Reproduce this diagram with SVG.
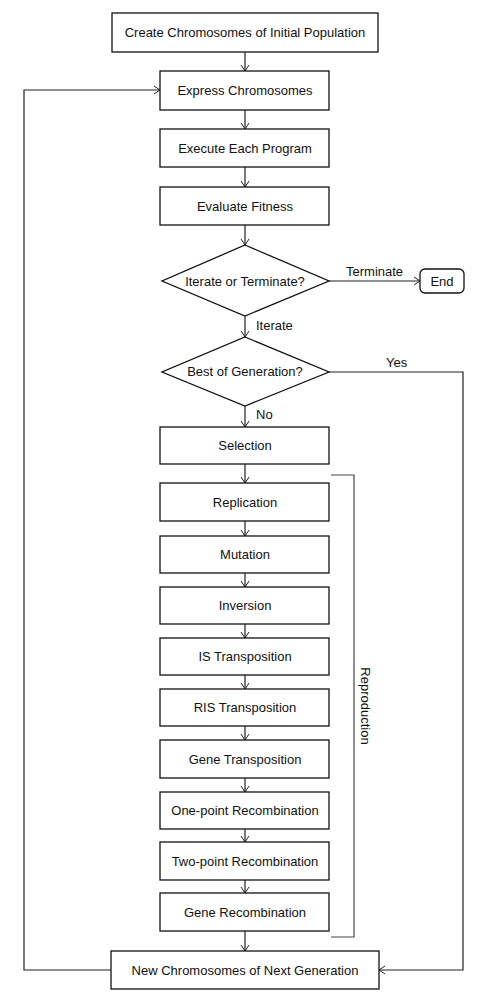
<svg xmlns="http://www.w3.org/2000/svg" width="491" height="998" viewBox="0 0 491 998">
<defs>
<marker id="arr" markerWidth="10" markerHeight="10" refX="8" refY="5" orient="auto" markerUnits="userSpaceOnUse">
<polyline points="2,1 8,5 2,9" fill="none" stroke="#222" stroke-width="1"/>
</marker>
<style>
.b{fill:#fff;stroke:#111;stroke-width:1.3}
.t{font-family:"Liberation Sans",Arial,sans-serif;font-size:13px;fill:#111;text-anchor:middle;dominant-baseline:central}
.l{font-family:"Liberation Sans",Arial,sans-serif;font-size:13px;fill:#111}
.c{fill:none;stroke:#222;stroke-width:1.2}
.a{marker-end:url(#arr)}
</style>
</defs>
<rect width="491" height="998" fill="#fff"/>
<g id="connectors">
<path class="c a" d="M245,52 V71"/>
<path class="c a" d="M245,110 V129"/>
<path class="c a" d="M245,167 V187"/>
<path class="c a" d="M245,225 V245"/>
<path class="c a" d="M329,281 H420"/>
<path class="c a" d="M245,316 V337"/>
<path class="c a" d="M245,406 V427"/>
<path class="c a" d="M245,464 V483"/>
<path class="c a" d="M245,521 V536"/>
<path class="c a" d="M245,573 V587"/>
<path class="c a" d="M245,624 V638"/>
<path class="c a" d="M245,675 V689"/>
<path class="c a" d="M245,726 V740"/>
<path class="c a" d="M245,778 V792"/>
<path class="c a" d="M245,829 V842"/>
<path class="c a" d="M245,880 V893"/>
<path class="c a" d="M245,931 V951"/>
<path class="c a" d="M329,372 H463 V970 H379"/>
<path class="c a" d="M111,970 H24 V90 H160"/>
<path d="M331,475 H354 V937 H331" fill="none" stroke="#444" stroke-width="1.2"/>
<text class="l" x="346" y="276">Terminate</text>
<text class="l" x="256" y="330">Iterate</text>
<text class="l" x="386" y="367">Yes</text>
<text class="l" x="256" y="419">No</text>
<text class="t" transform="translate(365,706) rotate(90)">Reproduction</text>
</g>
<g id="n-create"><rect class="b" x="112" y="13" width="266" height="39"/><text class="t" x="245" y="32.5">Create Chromosomes of Initial Population</text></g>
<g id="n-express"><rect class="b" x="160" y="71" width="169" height="39"/><text class="t" x="245" y="90.5">Express Chromosomes</text></g>
<g id="n-execute"><rect class="b" x="160" y="129" width="169" height="38"/><text class="t" x="245" y="148">Execute Each Program</text></g>
<g id="n-evaluate"><rect class="b" x="160" y="187" width="169" height="38"/><text class="t" x="245" y="206">Evaluate Fitness</text></g>
<g id="n-iterate"><polygon class="b" points="245,245 329,281 245,316 162,281"/><text class="t" x="245" y="281.5">Iterate or Terminate?</text></g>
<g id="n-end"><rect class="b" x="420" y="269" width="44" height="24" rx="5"/><text class="t" x="442" y="281">End</text></g>
<g id="n-best"><polygon class="b" points="245,337 329,372 245,406 162,372"/><text class="t" x="245" y="371.5">Best of Generation?</text></g>
<g id="n-selection"><rect class="b" x="160" y="427" width="169" height="37"/><text class="t" x="245" y="445.5">Selection</text></g>
<g id="n-replication"><rect class="b" x="160" y="483" width="169" height="38"/><text class="t" x="245" y="502">Replication</text></g>
<g id="n-mutation"><rect class="b" x="160" y="536" width="169" height="37"/><text class="t" x="245" y="554.5">Mutation</text></g>
<g id="n-inversion"><rect class="b" x="160" y="587" width="169" height="37"/><text class="t" x="245" y="605.5">Inversion</text></g>
<g id="n-is"><rect class="b" x="160" y="638" width="169" height="37"/><text class="t" x="245" y="656.5">IS Transposition</text></g>
<g id="n-ris"><rect class="b" x="160" y="689" width="169" height="37"/><text class="t" x="245" y="707.5">RIS Transposition</text></g>
<g id="n-genet"><rect class="b" x="160" y="740" width="169" height="38"/><text class="t" x="245" y="759">Gene Transposition</text></g>
<g id="n-onepoint"><rect class="b" x="160" y="792" width="169" height="37"/><text class="t" x="245" y="810.5">One-point Recombination</text></g>
<g id="n-twopoint"><rect class="b" x="160" y="842" width="169" height="38"/><text class="t" x="245" y="861">Two-point Recombination</text></g>
<g id="n-generec"><rect class="b" x="160" y="893" width="169" height="38"/><text class="t" x="245" y="912">Gene Recombination</text></g>
<g id="n-newgen"><rect class="b" x="111" y="951" width="268" height="38"/><text class="t" x="245" y="970">New Chromosomes of Next Generation</text></g>
</svg>
